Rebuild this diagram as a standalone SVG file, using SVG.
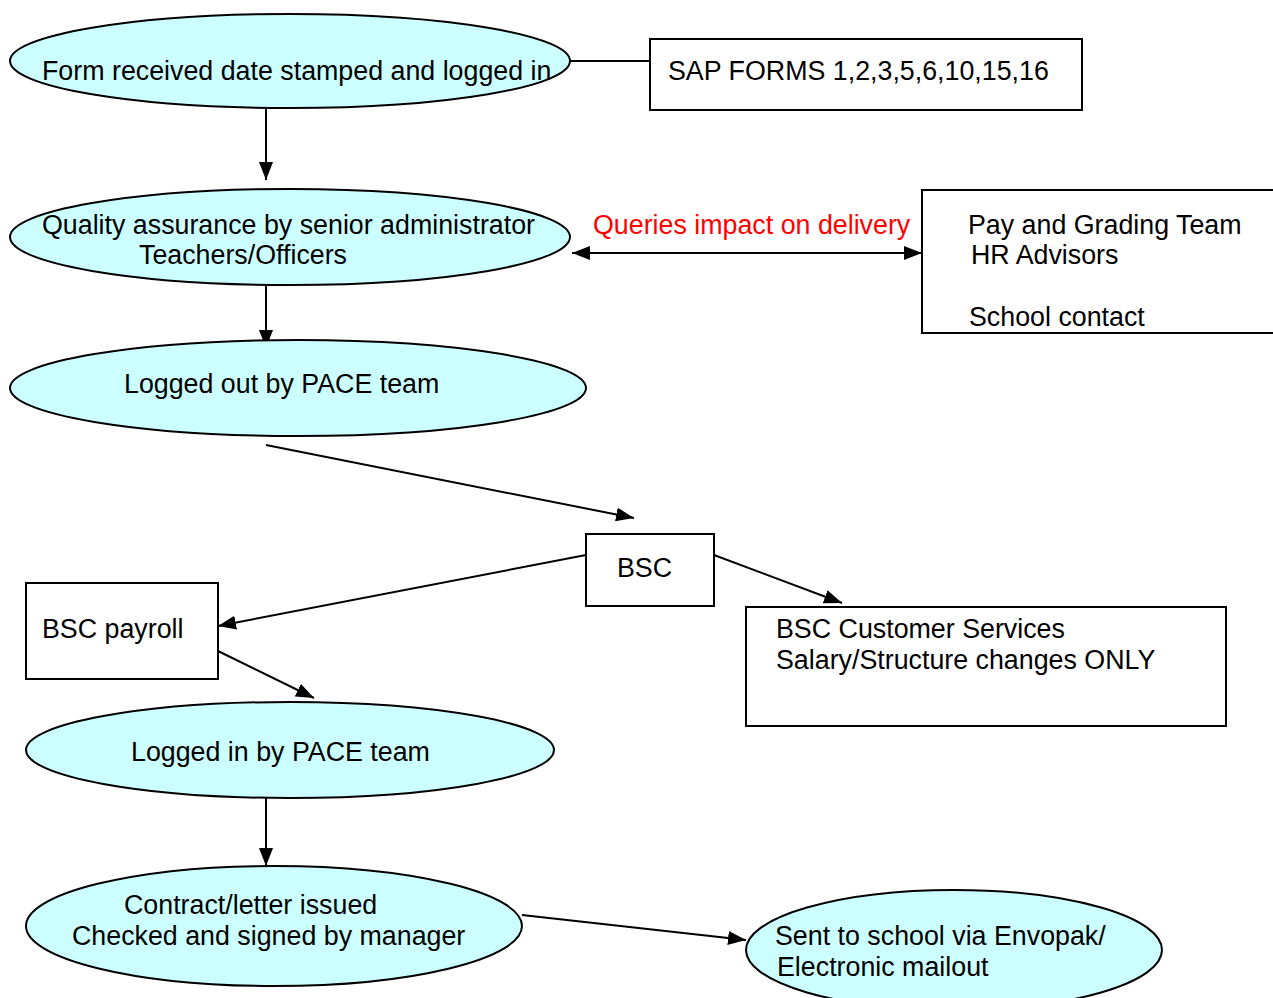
<svg xmlns="http://www.w3.org/2000/svg" width="1273" height="998" viewBox="0 0 1273 998">
<style>
.n{fill:#CCFFFF;stroke:#000;stroke-width:2}
.b{fill:#fff;stroke:#000;stroke-width:2}
.t{font-family:"Liberation Sans",Arial,sans-serif;font-size:26.8px;fill:#000}
.r{fill:#FF0000}
.c{fill:none;stroke:#000;stroke-width:2}
</style>
<defs>
<marker id="ah" markerUnits="userSpaceOnUse" markerWidth="20" markerHeight="14" refX="18" refY="7" orient="auto-start-reverse">
<path d="M0,0 L18,7 L0,14 Z" fill="#000"/>
</marker>
</defs>
<rect width="1273" height="998" fill="#fff"/>
<g id="connectors">
<line class="c" x1="570" y1="61" x2="650" y2="61"/>
<line class="c" x1="266" y1="108" x2="266" y2="180" marker-end="url(#ah)"/>
<line class="c" x1="266" y1="278" x2="266" y2="348" marker-end="url(#ah)"/>
<line class="c" x1="572" y1="253" x2="922" y2="253" marker-start="url(#ah)" marker-end="url(#ah)"/>
<line class="c" x1="266" y1="445" x2="634" y2="518" marker-end="url(#ah)"/>
<line class="c" x1="586" y1="555" x2="218" y2="626" marker-end="url(#ah)"/>
<line class="c" x1="714" y1="555" x2="842" y2="603" marker-end="url(#ah)"/>
<line class="c" x1="218" y1="651" x2="314" y2="698" marker-end="url(#ah)"/>
<line class="c" x1="266" y1="794" x2="266" y2="866" marker-end="url(#ah)"/>
<line class="c" x1="522" y1="915" x2="746" y2="940" marker-end="url(#ah)"/>
<text class="t r" x="593" y="234">Queries impact on delivery</text>
</g>
<g id="n1">
<ellipse class="n" cx="290" cy="61" rx="280" ry="47"/>
<text class="t" x="42" y="80">Form received date stamped and logged in</text>
</g>
<g id="sap">
<rect class="b" x="650" y="39" width="432" height="71"/>
<text class="t" x="668" y="80">SAP FORMS 1,2,3,5,6,10,15,16</text>
</g>
<g id="n2">
<ellipse class="n" cx="290" cy="237" rx="280" ry="48"/>
<text class="t" x="42" y="234">Quality assurance by senior administrator</text>
<text class="t" x="139" y="264">Teachers/Officers</text>
</g>
<g id="pay">
<path class="b" d="M1273,190 L922,190 L922,333 L1273,333"/>
<text class="t" x="968" y="234">Pay and Grading Team</text>
<text class="t" x="971" y="264">HR Advisors</text>
<text class="t" x="969" y="326">School contact</text>
</g>
<g id="n3">
<ellipse class="n" cx="298" cy="388" rx="288" ry="48"/>
<text class="t" x="124" y="393">Logged out by PACE team</text>
</g>
<g id="bsc">
<rect class="b" x="586" y="534" width="128" height="72"/>
<text class="t" x="617" y="577">BSC</text>
</g>
<g id="payroll">
<rect class="b" x="26" y="583" width="192" height="96"/>
<text class="t" x="42" y="638">BSC payroll</text>
</g>
<g id="cs">
<rect class="b" x="746" y="607" width="480" height="119"/>
<text class="t" x="776" y="638">BSC Customer Services</text>
<text class="t" x="776" y="669">Salary/Structure changes ONLY</text>
</g>
<g id="n4">
<ellipse class="n" cx="290" cy="750" rx="264" ry="48"/>
<text class="t" x="131" y="761">Logged in by PACE team</text>
</g>
<g id="n5">
<ellipse class="n" cx="274" cy="926" rx="248" ry="60"/>
<text class="t" x="124" y="914">Contract/letter issued</text>
<text class="t" x="72" y="945">Checked and signed by manager</text>
</g>
<g id="n6">
<ellipse class="n" cx="954" cy="950" rx="208" ry="60"/>
<text class="t" x="775" y="945">Sent to school via Envopak/</text>
<text class="t" x="777" y="976">Electronic mailout</text>
</g>
</svg>
